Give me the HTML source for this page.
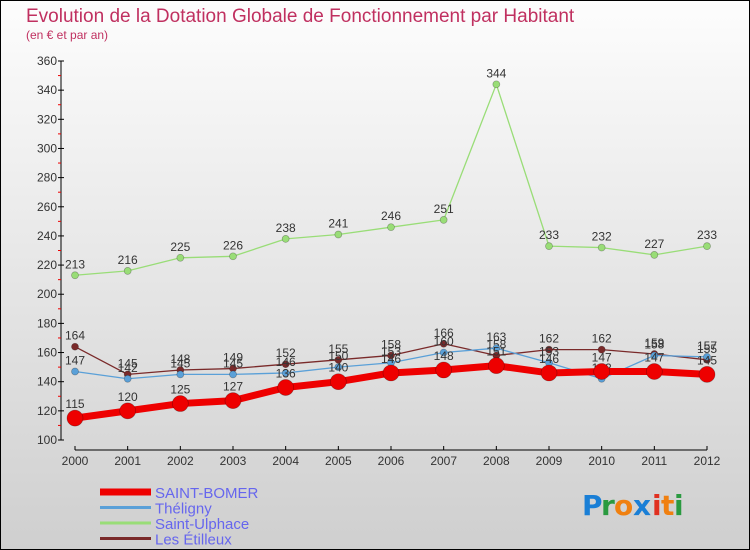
<!DOCTYPE html>
<html><head><meta charset="utf-8"><style>
html,body{margin:0;padding:0}
body{width:750px;height:550px;overflow:hidden;font-family:"Liberation Sans",sans-serif}
</style></head><body>
<svg id="c" width="750" height="550" xmlns="http://www.w3.org/2000/svg" style="display:block">
<defs><linearGradient id="bg" x1="0" y1="0" x2="0" y2="1"><stop offset="0" stop-color="#fdfdfd"/><stop offset="1" stop-color="#cfcfcf"/></linearGradient></defs>
<rect x="0.5" y="0.5" width="749" height="549" fill="url(#bg)" stroke="#000"/>
<text x="26" y="22" font-size="19" fill="#c03060">Evolution de la Dotation Globale de Fonctionnement par Habitant</text>
<text x="26" y="39" font-size="12" fill="#c03060">(en € et par an)</text>
<g id="axes"></g><g id="series"></g><g id="legend"></g>
<g font-size="28" font-weight="bold" font-family="'DejaVu Sans',sans-serif">
<text x="582" y="515" fill="#1a7fd6">P</text><text x="601" y="515" fill="#2a9a40">r</text><text x="614" y="515" fill="#f08010">o</text><text x="633" y="515" fill="#1a7fd6">x</text><text x="652" y="515" fill="#e03020">i</text><text x="661" y="515" fill="#f08010">t</text><text x="674" y="515" fill="#2a9a40">i</text>
</g>
</svg>
<script>
const years=[2000,2001,2002,2003,2004,2005,2006,2007,2008,2009,2010,2011,2012];
const saintBomer=[115,120,125,127,136,140,146,148,151,146,147,147,145];
const theligny=[147,142,145,145,146,150,153,160,163,153,142,158,157];
const saintUlphace=[213,216,225,226,238,241,246,251,344,233,232,227,233];
const etilleux=[164,145,148,149,152,155,158,166,158,162,162,159,155];
const yTicks=[100,120,140,160,180,200,220,240,260,280,300,320,340,360];
const NS="http://www.w3.org/2000/svg";
const x=i=>75+i*(707-75)/(years.length-1);
const y=v=>440-(v-100)*(440-61)/260;
function mk(t,a,p){const e=document.createElementNS(NS,t);for(const k in a)e.setAttribute(k,a[k]);p.appendChild(e);return e;}
const ax=document.getElementById('axes');
let e=mk('line',{x1:61,y1:61,x2:61,y2:440,stroke:'#000'},ax);


e=mk('line',{x1:75,y1:450,x2:707,y2:450,stroke:'#000'},ax);


yTicks.forEach((v,i)=>{
 mk('line',{x1:58,y1:y(v),x2:64,y2:y(v),stroke:'#000'},ax);
 if(i<yTicks.length-1)mk('line',{x1:58,y1:y(v+10),x2:61,y2:y(v+10),stroke:'#e00'},ax);
 const t=mk('text',{x:57,y:y(v)+4,'font-size':12,'text-anchor':'end',fill:'#333'},ax);t.textContent=v;
 
 
});
years.forEach((yr,i)=>{
 mk('line',{x1:x(i),y1:446,x2:x(i),y2:450,stroke:'#000'},ax);
 const t=mk('text',{x:x(i),y:465,'font-size':12,'text-anchor':'middle',fill:'#333'},ax);t.textContent=yr;
 
 
});
const sg=document.getElementById('series');
const defs=[
 {n:'saint-ulphace',d:saintUlphace,c:'#99dd77',w:1.3,r:3.5,lab:'Saint-Ulphace'},
 {n:'les-etilleux',d:etilleux,c:'#7a2a2a',w:1.3,r:3.5,lab:'Les Étilleux'},
 {n:'theligny',d:theligny,c:'#5aa0d8',w:1.3,r:3.5,lab:'Théligny'},
 {n:'saint-bomer',d:saintBomer,c:'#ee0000',w:7,r:8,lab:'SAINT-BOMER'}];
defs.forEach(s=>{
 const g=mk('g',{},sg);
 
 
 const pl=mk('polyline',{points:s.d.map((v,i)=>x(i)+','+y(v)).join(' '),fill:'none',stroke:s.c,'stroke-width':s.w,'stroke-linejoin':'round'},g);
 
 
 s.d.forEach((v,i)=>{
  const c=mk('circle',{cx:x(i),cy:y(v),r:s.r,fill:s.c,stroke:'rgba(0,0,0,0.3)','stroke-width':0.7},g);
  
  
  const t=mk('text',{x:x(i),y:y(v)-(s.w>5?10:7),'font-size':12,'text-anchor':'middle',fill:'#333'},g);t.textContent=v;
  
  
 });
});
const lg=document.getElementById('legend');
[defs[3],defs[2],defs[0],defs[1]].forEach((s,i)=>{
 const yy=492+i*15.5;
 const l=mk('line',{x1:100,y1:yy,x2:151,y2:yy,stroke:s.c,'stroke-width':s.w>5?7:3},lg);
 
 
 const t=mk('text',{x:155,y:yy+6,'font-size':15,fill:'#6666ee'},lg);t.textContent=s.lab;
 
 
});
</script>
</body></html>
